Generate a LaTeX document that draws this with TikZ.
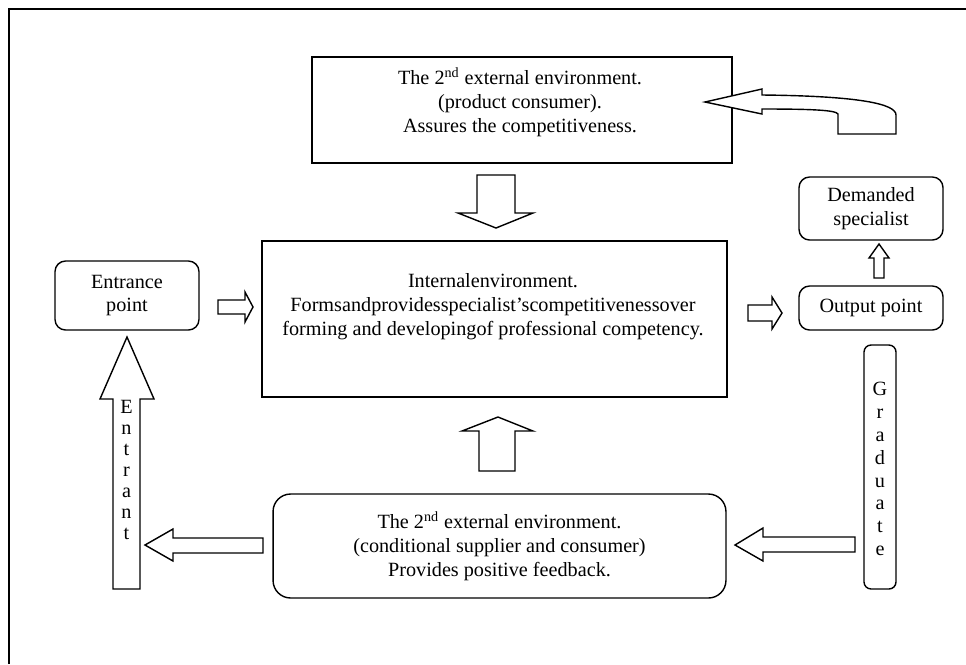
\documentclass[tikz,border=0pt]{standalone}
\usepackage{fontspec}
\setmainfont{Liberation Serif}
\usetikzlibrary{positioning,calc}

\begin{document}
\begin{tikzpicture}[
        x=0.02cm, y=-0.02cm,
        font=\fontsize{11.5}{13.6}\selectfont,
        box/.style={rectangle, draw, line width=0.8pt, inner sep=0pt, align=center},
        roundbox/.style={box, rounded corners=6pt},
        label/.style={align=center, inner sep=0pt},
        letters/.style={align=center, inner sep=0pt, font=\fontsize{11.5}{#1}\selectfont},
        blockarrow/.style={draw, line width=0.8pt, fill=white, line join=miter}
    ]
    \useasboundingbox (0,0) rectangle (966,664);

    % Page frame
    \draw [line width=0.9pt] (9,664) -- (9,9) -- (966,9);

    % Boxes
    \node [box, minimum width=8.4cm, minimum height=2.12cm] (consumer) at (522,110) {};
    \node [label] (consumertext) at (520,102) {The 2\textsuperscript{nd} external environment.\\(product consumer).\\Assures the competitiveness.};

    \node [box, minimum width=9.3cm, minimum height=3.12cm] (internal) at (494.5,319) {};
    \node [label] (internaltext) at (493,307) {Internalenvironment.\\Formsandprovidesspecialist’scompetitivenessover\\forming and developingof professional competency.};

    \node [roundbox, minimum width=2.88cm, minimum height=1.38cm] (entrance) at (127,295.5) {Entrance\\point};
    \node [roundbox, minimum width=2.88cm, minimum height=0.88cm] (output) at (871,308) {Output point};
    \node [roundbox, minimum width=2.88cm, minimum height=1.26cm] (demanded) at (871,208.5) {Demanded\\specialist};
    \node [roundbox, rounded corners=4pt, minimum width=0.64cm, minimum height=4.88cm] (graduate) at (880,467) {};
    \node [letters=13pt] (graduatetext) at (880,469) {G\\r\\a\\d\\u\\a\\t\\e};
    \node [roundbox, rounded corners=10pt, minimum width=9.06cm, minimum height=2.08cm] (supplier) at (499.5,546) {The 2\textsuperscript{nd} external environment.\\(conditional supplier and consumer)\\Provides positive feedback.};

    % Block arrows
    \draw [blockarrow] (218,300) -- (245,300) -- (245,292) -- (253,307) -- (245,322) -- (245,314) -- (218,314) -- cycle;
    \draw [blockarrow] (748,305) -- (772,305) -- (772,297) -- (782,313) -- (772,329) -- (772,321) -- (748,321) -- cycle;
    \draw [blockarrow] (874,278) -- (874,258) -- (869,258) -- (879,244) -- (889,258) -- (884,258) -- (884,278) -- cycle;
    \draw [blockarrow] (477,175) -- (515,175) -- (515,213) -- (533,213) -- (496,228) -- (458,213) -- (477,213) -- cycle;
    \draw [blockarrow] (479,471) -- (479,431) -- (462,431) -- (498,417) -- (533,431) -- (515,431) -- (515,471) -- cycle;
    \draw [blockarrow] (855,537) -- (763,537) -- (763,528) -- (735,545) -- (763,561) -- (763,552) -- (855,552) -- cycle;
    \draw [blockarrow] (263,538) -- (173,538) -- (173,529) -- (145,545) -- (173,561) -- (173,553) -- (263,553) -- cycle;
    \draw [blockarrow] (113,589) -- (113,399) -- (100,399) -- (127,337) -- (154,399) -- (140,399) -- (140,589) -- cycle;
    \node [letters=12pt] (entranttext) at (126.5,470) {E\\n\\t\\r\\a\\n\\t};

    % Curved return arrow
    \draw [blockarrow] (705,102) -- (762,89) -- (762,95)
        .. controls (860,96) and (896,104) .. (896,115) -- (896,134) -- (838,134) -- (838,114)
        .. controls (836,110) and (810,109) .. (762,109) -- (762,114) -- cycle;

\end{tikzpicture}
\end{document}
